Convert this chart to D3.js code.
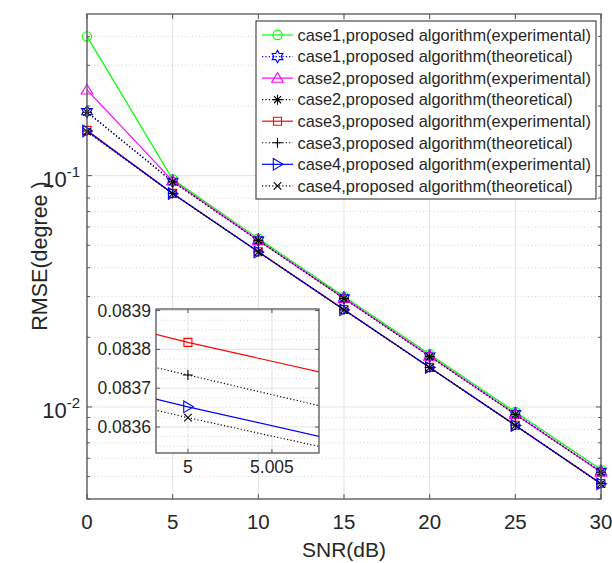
<!DOCTYPE html>
<html>
<head>
<meta charset="utf-8">
<script src="https://cdn.jsdelivr.net/npm/d3@7"></script>
<style>
  body { margin: 0; background: #fff; }
  svg { display: block; }
  text { font-family: "Liberation Sans", Arial, Helvetica, sans-serif; fill: #262626; }
</style>
</head>
<body>
<svg id="chart" width="612" height="563"></svg>
<script>
// ---- data -------------------------------------------------------------
const snr = [0, 5, 10, 15, 20, 25, 30];

const case1Exp  = [0.400, 0.0965,   0.0535, 0.0300, 0.0169,  0.00951, 0.00536];
const case1Theo = [0.189, 0.0945,   0.0527, 0.0296, 0.0166,  0.00935, 0.00526];
const case2Exp  = [0.235, 0.0950,   0.0525, 0.0295, 0.0166,  0.00930, 0.00523];
const case2Theo = [0.188, 0.0940,   0.0524, 0.0294, 0.0165,  0.00928, 0.00522];
const case3Exp  = [0.157, 0.083818, 0.0469, 0.0264, 0.01483, 0.00834, 0.00467];
const case3Theo = [0.156, 0.083734, 0.0469, 0.0263, 0.01482, 0.00833, 0.00466];
const case4Exp  = [0.156, 0.083652, 0.0468, 0.0263, 0.01481, 0.00832, 0.00466];
const case4Theo = [0.155, 0.083624, 0.0468, 0.0263, 0.01480, 0.00832, 0.00465];

const seriesNames = [
  "case1,proposed algorithm(experimental)",
  "case1,proposed algorithm(theoretical)",
  "case2,proposed algorithm(experimental)",
  "case2,proposed algorithm(theoretical)",
  "case3,proposed algorithm(experimental)",
  "case3,proposed algorithm(theoretical)",
  "case4,proposed algorithm(experimental)",
  "case4,proposed algorithm(theoretical)"
];

const xTicks = [0, 5, 10, 15, 20, 25, 30];
const yMajorTicks = [0.01, 0.1];
const yMinorTicks = [0.004, 0.005, 0.006, 0.007, 0.008, 0.009,
                     0.02, 0.03, 0.04, 0.05, 0.06, 0.07, 0.08, 0.09,
                     0.2, 0.3, 0.4];

// zoomed detail around SNR = 5 dB (cases 3 and 4)
const zoomSnr = [4.998, 5, 5.008];
const zoomCase3Exp  = [0.083840, 0.083818, 0.083740];
const zoomCase3Theo = [0.083754, 0.083734, 0.083653];
const zoomCase4Exp  = [0.083673, 0.083652, 0.083574];
const zoomCase4Theo = [0.083644, 0.083624, 0.083548];
const zoomYTicks = [0.0836, 0.0837, 0.0838, 0.0839];
const zoomYMinor = [0.083550, 0.083575, 0.083625, 0.083650, 0.083675,
                    0.083725, 0.083750, 0.083775, 0.083825, 0.083850, 0.083875];
const zoomXTicks = [5, 5.005];

// ---- styles -----------------------------------------------------------
const styles = [
  { color: "#00ff00", dash: null,  marker: "circle" },
  { color: "#0000ff", dash: "1.2,2.2", marker: "hexagram" },
  { color: "#ff00ff", dash: null,  marker: "triangleUp" },
  { color: "#000000", dash: "1.2,2.2", marker: "asterisk" },
  { color: "#ff0000", dash: null,  marker: "square" },
  { color: "#000000", dash: "1.2,2.2", marker: "plus" },
  { color: "#0000ff", dash: null,  marker: "triangleRight" },
  { color: "#000000", dash: "1.2,2.2", marker: "times" }
];
const mainSeries = [case1Exp, case1Theo, case2Exp, case2Theo, case3Exp, case3Theo, case4Exp, case4Theo];
const zoomSeries = [null, null, null, null, zoomCase3Exp, zoomCase3Theo, zoomCase4Exp, zoomCase4Theo];

function markerPath(type) {
  const p = d3.path();
  switch (type) {
    case "circle":
      p.moveTo(4.6, 0); p.arc(0, 0, 4.6, 0, 2 * Math.PI); break;
    case "hexagram": {
      const R = 6.2, r = R / Math.sqrt(3);
      for (let i = 0; i < 12; i++) {
        const a = -Math.PI / 2 + i * Math.PI / 6;
        const rr = i % 2 === 0 ? R : r;
        const x = rr * Math.cos(a), y = rr * Math.sin(a);
        if (i === 0) p.moveTo(x, y); else p.lineTo(x, y);
      }
      p.closePath(); break;
    }
    case "triangleUp":
      p.moveTo(0, -5.5); p.lineTo(5.8, 4.2); p.lineTo(-5.8, 4.2); p.closePath(); break;
    case "asterisk":
      p.moveTo(-5, 0); p.lineTo(5, 0);
      p.moveTo(0, -5); p.lineTo(0, 5);
      p.moveTo(-3.6, -3.6); p.lineTo(3.6, 3.6);
      p.moveTo(-3.6, 3.6); p.lineTo(3.6, -3.6); break;
    case "square":
      p.rect(-4, -4, 8, 8); break;
    case "plus":
      p.moveTo(-5, 0); p.lineTo(5, 0); p.moveTo(0, -5); p.lineTo(0, 5); break;
    case "triangleRight":
      p.moveTo(5.5, 0); p.lineTo(-4.2, -5.8); p.lineTo(-4.2, 5.8); p.closePath(); break;
    case "times":
      p.moveTo(-3.8, -3.8); p.lineTo(3.8, 3.8); p.moveTo(-3.8, 3.8); p.lineTo(3.8, -3.8); break;
  }
  return p.toString();
}

// ---- layout -----------------------------------------------------------
const svg = d3.select("#chart");
const plot = { left: 87, right: 601, top: 14, bottom: 499 };
const axisColor = "#555";
const gridMajor = "#e3e3e3";
const gridMinor = "#c9c9c9";

const x = d3.scaleLinear().domain([0, 30]).range([plot.left, plot.right]);
const y = d3.scaleLog().domain([0.004, 0.5]).range([plot.bottom, plot.top]);

// background
svg.append("rect").attr("x", plot.left).attr("y", plot.top)
  .attr("width", plot.right - plot.left).attr("height", plot.bottom - plot.top)
  .attr("fill", "#fff");

// grid
const grid = svg.append("g");
grid.selectAll(".gmin").data(yMinorTicks).join("line")
  .attr("x1", plot.left).attr("x2", plot.right)
  .attr("y1", d => y(d)).attr("y2", d => y(d))
  .attr("stroke", gridMinor).attr("stroke-width", 0.8).attr("stroke-dasharray", "1,2.5");
grid.selectAll(".gmaj").data(yMajorTicks).join("line")
  .attr("x1", plot.left).attr("x2", plot.right)
  .attr("y1", d => y(d)).attr("y2", d => y(d))
  .attr("stroke", gridMajor).attr("stroke-width", 1);
grid.selectAll(".gx").data(xTicks).join("line")
  .attr("x1", d => x(d)).attr("x2", d => x(d))
  .attr("y1", plot.top).attr("y2", plot.bottom)
  .attr("stroke", gridMajor).attr("stroke-width", 1);

// series lines and markers
const line = d3.line().x((d, i) => x(snr[i])).y(d => y(d));
const seriesG = svg.append("g");
mainSeries.forEach((vals, k) => {
  const st = styles[k];
  seriesG.append("path").attr("d", line(vals))
    .attr("fill", "none").attr("stroke", st.color).attr("stroke-width", 1.2)
    .attr("stroke-dasharray", st.dash);
  seriesG.append("g").selectAll("path").data(vals).join("path")
    .attr("transform", (d, i) => `translate(${x(snr[i])},${y(d)})`)
    .attr("d", markerPath(st.marker))
    .attr("fill", "none").attr("stroke", st.color).attr("stroke-width", 1.1);
});

// axes box and ticks
const axes = svg.append("g");
axes.append("rect").attr("x", plot.left).attr("y", plot.top)
  .attr("width", plot.right - plot.left).attr("height", plot.bottom - plot.top)
  .attr("fill", "none").attr("stroke", axisColor).attr("stroke-width", 1.3);
xTicks.forEach(t => {
  axes.append("line").attr("x1", x(t)).attr("x2", x(t)).attr("y1", plot.bottom).attr("y2", plot.bottom - 5)
    .attr("stroke", axisColor);
  axes.append("line").attr("x1", x(t)).attr("x2", x(t)).attr("y1", plot.top).attr("y2", plot.top + 5)
    .attr("stroke", axisColor);
});
yMajorTicks.forEach(t => {
  axes.append("line").attr("x1", plot.left).attr("x2", plot.left + 5).attr("y1", y(t)).attr("y2", y(t)).attr("stroke", axisColor);
  axes.append("line").attr("x1", plot.right).attr("x2", plot.right - 5).attr("y1", y(t)).attr("y2", y(t)).attr("stroke", axisColor);
});
yMinorTicks.forEach(t => {
  axes.append("line").attr("x1", plot.left).attr("x2", plot.left + 3).attr("y1", y(t)).attr("y2", y(t)).attr("stroke", axisColor);
  axes.append("line").attr("x1", plot.right).attr("x2", plot.right - 3).attr("y1", y(t)).attr("y2", y(t)).attr("stroke", axisColor);
});

// tick labels
axes.selectAll(".xl").data(xTicks).join("text")
  .attr("x", d => x(d)).attr("y", 529).attr("text-anchor", "middle")
  .attr("font-size", 20.5).text(d => d);
yMajorTicks.forEach(t => {
  const tx = axes.append("text").attr("x", 80).attr("y", y(t) + 11.5).attr("text-anchor", "end").attr("font-size", 22);
  tx.append("tspan").text("10");
  tx.append("tspan").attr("font-size", 15).attr("dy", -10).text(String(Math.round(Math.log10(t))));
});

// axis labels
svg.append("text").attr("x", 344).attr("y", 557).attr("text-anchor", "middle")
  .attr("font-size", 21).text("SNR(dB)");
svg.append("text").attr("transform", "translate(47,256) rotate(-90)").attr("text-anchor", "middle")
  .attr("font-size", 21.5).text("RMSE(degree )");

// ---- zoomed inset -----------------------------------------------------
const ins = { left: 156, right: 319, top: 309, bottom: 453 };
const xi = d3.scaleLinear().domain([4.9981, 5.0078]).range([ins.left, ins.right]);
const yi = d3.scaleLinear().domain([0.083533, 0.083904]).range([ins.bottom, ins.top]);
const inset = svg.append("g");
inset.append("rect").attr("x", ins.left).attr("y", ins.top)
  .attr("width", ins.right - ins.left).attr("height", ins.bottom - ins.top).attr("fill", "#fff");
svg.append("clipPath").attr("id", "insClip").append("rect")
  .attr("x", ins.left).attr("y", ins.top).attr("width", ins.right - ins.left).attr("height", ins.bottom - ins.top);
inset.selectAll(".imin").data(zoomYMinor).join("line")
  .attr("x1", ins.left).attr("x2", ins.right).attr("y1", d => yi(d)).attr("y2", d => yi(d))
  .attr("stroke", gridMinor).attr("stroke-width", 0.8).attr("stroke-dasharray", "1,2.5");
inset.selectAll(".imaj").data(zoomYTicks).join("line")
  .attr("x1", ins.left).attr("x2", ins.right).attr("y1", d => yi(d)).attr("y2", d => yi(d))
  .attr("stroke", gridMajor).attr("stroke-width", 1);
inset.selectAll(".ix").data(zoomXTicks).join("line")
  .attr("x1", d => xi(d)).attr("x2", d => xi(d)).attr("y1", ins.top).attr("y2", ins.bottom)
  .attr("stroke", gridMajor).attr("stroke-width", 1);

const lineI = d3.line().x((d, i) => xi(zoomSnr[i])).y(d => yi(d));
const insetSeries = inset.append("g").attr("clip-path", "url(#insClip)");
zoomSeries.forEach((vals, k) => {
  if (!vals) return;
  const st = styles[k];
  insetSeries.append("path").attr("d", lineI(vals))
    .attr("fill", "none").attr("stroke", st.color).attr("stroke-width", 1.2)
    .attr("stroke-dasharray", st.dash);
  insetSeries.append("path")
    .attr("transform", `translate(${xi(zoomSnr[1])},${yi(vals[1])})`)
    .attr("d", markerPath(st.marker))
    .attr("fill", "none").attr("stroke", st.color).attr("stroke-width", 1.1);
});

inset.append("rect").attr("x", ins.left).attr("y", ins.top)
  .attr("width", ins.right - ins.left).attr("height", ins.bottom - ins.top)
  .attr("fill", "none").attr("stroke", axisColor).attr("stroke-width", 1.3);
zoomYTicks.forEach(t => {
  inset.append("line").attr("x1", ins.left).attr("x2", ins.left + 4).attr("y1", yi(t)).attr("y2", yi(t)).attr("stroke", axisColor);
  inset.append("line").attr("x1", ins.right).attr("x2", ins.right - 4).attr("y1", yi(t)).attr("y2", yi(t)).attr("stroke", axisColor);
});
zoomXTicks.forEach(t => {
  inset.append("line").attr("x1", xi(t)).attr("x2", xi(t)).attr("y1", ins.bottom).attr("y2", ins.bottom - 4).attr("stroke", axisColor);
  inset.append("line").attr("x1", xi(t)).attr("x2", xi(t)).attr("y1", ins.top).attr("y2", ins.top + 4).attr("stroke", axisColor);
});
inset.selectAll(".iyl").data(zoomYTicks).join("text")
  .attr("x", ins.left - 5).attr("y", d => yi(d) + 6).attr("text-anchor", "end")
  .attr("font-size", 17.5).text(d => d.toFixed(4));
inset.selectAll(".ixl").data(zoomXTicks).join("text")
  .attr("x", d => xi(d)).attr("y", ins.bottom + 20).attr("text-anchor", "middle")
  .attr("font-size", 17.5).text(d => d === 5 ? "5" : d.toFixed(3));

// ---- legend -----------------------------------------------------------
const leg = svg.append("g");
const legBox = { x: 256, y: 21, w: 340, h: 178 };
leg.append("rect").attr("x", legBox.x).attr("y", legBox.y).attr("width", legBox.w).attr("height", legBox.h)
  .attr("fill", "#fff").attr("stroke", "#262626").attr("stroke-width", 1);
const rowY = i => 35 + i * 21.55;
seriesNames.forEach((name, i) => {
  const st = styles[i];
  leg.append("line").attr("x1", 262).attr("x2", 293).attr("y1", rowY(i)).attr("y2", rowY(i))
    .attr("stroke", st.color).attr("stroke-width", 1.2).attr("stroke-dasharray", st.dash);
  leg.append("path").attr("transform", `translate(277.5,${rowY(i)})`).attr("d", markerPath(st.marker))
    .attr("fill", "none").attr("stroke", st.color).attr("stroke-width", 1.1);
  leg.append("text").attr("x", 297.5).attr("y", rowY(i) + 5.8).attr("font-size", 16.4).text(name);
});
</script>
</body>
</html>
